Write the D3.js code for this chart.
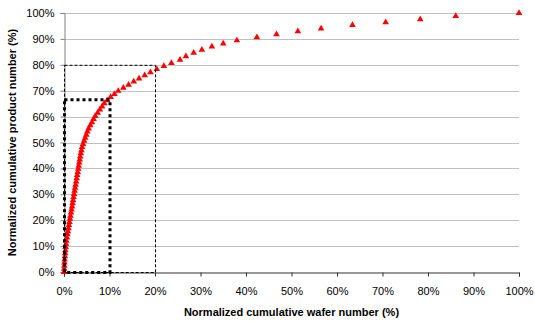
<!DOCTYPE html>
<html>
<head>
<meta charset="utf-8">
<script src="https://cdn.jsdelivr.net/npm/d3@7/dist/d3.min.js"></script>
<style>
  html, body { margin: 0; padding: 0; background: #fff; }
  svg { display: block; font-family: "Liberation Sans", Arial, sans-serif; }
</style>
</head>
<body>
<svg id="chart" width="535" height="322"></svg>
<script>
// Normalized cumulative wafer number (%) for each point
const waferPct = [
  0, 0.04, 0.07, 0.11, 0.14, 0.2, 0.25, 0.31, 0.36, 0.44,
  0.52, 0.64, 0.75, 0.86, 0.98, 1.09, 1.2, 1.32, 1.43, 1.55,
  1.66, 1.78, 1.89, 2.0, 2.1, 2.21, 2.32, 2.44, 2.56, 2.67,
  2.79, 2.9, 3.02, 3.13, 3.24, 3.35, 3.46, 3.56, 3.69, 3.83,
  3.98, 4.19, 4.42, 4.66, 4.9, 5.14, 5.42, 5.78, 6.14, 6.5,
  6.88, 7.4, 7.88, 8.36, 8.86, 9.5, 10.25, 11.09, 11.93, 13.05,
  14.19, 15.33, 16.5, 17.75, 19.0, 20.4, 21.95, 23.6, 25.5, 26.8,
  28.5, 30.3, 32.5, 35.0, 38.0, 42.4, 46.7, 51.4, 56.5, 63.4,
  70.7, 78.3, 86.1, 100
];
// Normalized cumulative product number (%) for each point
const productPct = [
  0, 1.2, 2.4, 3.6, 4.8, 6.0, 7.2, 8.4, 9.6, 10.8,
  12.05, 13.3, 14.5, 15.7, 16.9, 18.1, 19.3, 20.5, 21.7, 22.9,
  24.1, 25.3, 26.5, 27.7, 28.9, 30.1, 31.3, 32.5, 33.7, 34.9,
  36.2, 37.4, 38.6, 39.8, 41.0, 42.2, 43.4, 44.6, 45.8, 47.0,
  48.2, 49.4, 50.6, 51.8, 53.0, 54.2, 55.4, 56.6, 57.8, 59.0,
  60.2, 61.5, 62.7, 63.9, 65.1, 66.3, 67.5, 68.7, 69.9, 71.1,
  72.3, 73.5, 74.7, 75.9, 77.1, 78.3, 79.5, 80.7, 81.9, 83.3,
  84.6, 85.8, 87.0, 88.2, 89.4, 90.6, 91.8, 92.9, 94.0, 95.3,
  96.4, 97.6, 98.8, 100
];
const xTicks = [0, 10, 20, 30, 40, 50, 60, 70, 80, 90, 100];
const yTicks = [0, 10, 20, 30, 40, 50, 60, 70, 80, 90, 100];
const xTitle = "Normalized cumulative wafer number (%)";
const yTitle = "Normalized cumulative product number (%)";
// Highlight rectangles: [x0, y0, x1, y1] in data units
const thinBox = [0, 0, 20, 80];
const thickBox = [0, 0, 10, 66.7];

const svg = d3.select("#chart");
const mLeft = 64, mRight = 519, mTop = 13, mBottom = 272;
const x = d3.scaleLinear().domain([0, 100]).range([mLeft, mRight]);
const y = d3.scaleLinear().domain([0, 100]).range([mBottom, mTop]);
const fmt = d => d + "%";

// horizontal gridlines
svg.append("g").selectAll("line").data(yTicks.filter(d => d > 0)).join("line")
  .attr("x1", mLeft).attr("x2", mRight)
  .attr("y1", d => Math.round(y(d)) + 0.5).attr("y2", d => Math.round(y(d)) + 0.5)
  .attr("stroke", "#c0c0c0").attr("stroke-width", 1);

// y axis
const gy = svg.append("g").attr("transform", `translate(${mLeft + 0.5},0)`)
  .call(d3.axisLeft(y).tickValues(yTicks).tickFormat(fmt).tickSize(4).tickPadding(6));
gy.select(".domain").attr("stroke", "#808080");
gy.selectAll(".tick line").attr("stroke", "#808080");
gy.selectAll("text").attr("font-size", 11).attr("fill", "#000")
  .attr("font-family", "'Liberation Sans', Arial, sans-serif");

// x axis
const gx = svg.append("g").attr("transform", `translate(0,${mBottom + 0.5})`)
  .call(d3.axisBottom(x).tickValues(xTicks).tickFormat(fmt).tickSize(4).tickPadding(11));
gx.select(".domain").attr("stroke", "#303030");
gx.selectAll(".tick line").attr("stroke", "#303030");
gx.selectAll("text").attr("font-size", 11).attr("fill", "#000")
  .attr("font-family", "'Liberation Sans', Arial, sans-serif");

// markers
const tri = d3.symbol().type(d3.symbolTriangle).size(19);
svg.append("g").selectAll("path").data(waferPct.map((w, i) => [w, productPct[i]])).join("path")
  .attr("d", tri)
  .attr("transform", d => `translate(${x(d[0])},${y(d[1])})`)
  .attr("fill", "#ff0000");

// thin dashed box
function boxPath(b) {
  const x0 = x(b[0]) + 0.5, y0 = y(b[1]) + 0.5, x1 = x(b[2]) + 0.5, y1 = y(b[3]) + 0.5;
  return `M${x0},${y1}H${x1}V${y0}H${x0}Z`;
}
svg.append("path").attr("d", boxPath(thinBox))
  .attr("fill", "none").attr("stroke", "#000").attr("stroke-width", 1)
  .attr("stroke-dasharray", "3,2");
// thick dotted box
svg.append("path").attr("d", boxPath(thickBox))
  .attr("fill", "none").attr("stroke", "#000").attr("stroke-width", 3)
  .attr("stroke-dasharray", "3,3");

// axis titles
svg.append("text").attr("x", (mLeft + mRight) / 2).attr("y", 315.5)
  .attr("text-anchor", "middle").attr("font-size", 11).attr("font-weight", "bold")
  .text(xTitle);
svg.append("text").attr("transform", `translate(16,${(mTop + mBottom) / 2}) rotate(-90)`)
  .attr("text-anchor", "middle").attr("font-size", 11).attr("font-weight", "bold")
  .text(yTitle);
</script>
</body>
</html>
